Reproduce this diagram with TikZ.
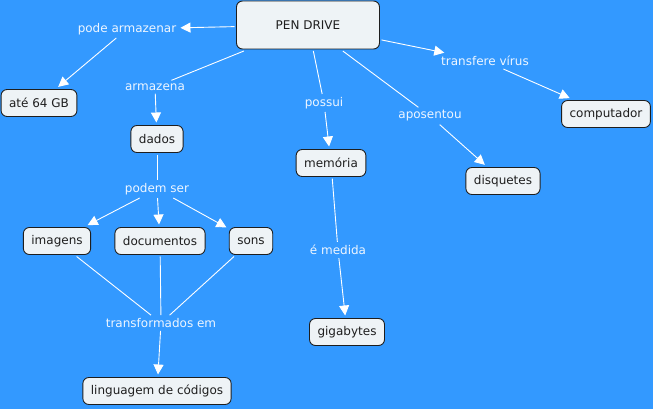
\documentclass[tikz,border=0pt]{standalone}
\usepackage{fontspec}
\setmainfont{DejaVu Sans}
\usetikzlibrary{arrows.meta}
\definecolor{sky}{HTML}{3399FF}
\definecolor{paper}{HTML}{EEF3F6}
\definecolor{ink}{HTML}{1E1E1E}
\definecolor{frost}{HTML}{EEF6FF}

\begin{document}
\begin{tikzpicture}[x=1pt, y=-1pt,
  concept/.style={draw=ink, fill=paper, text=ink, rounded corners=6pt, line width=0.9pt,
    minimum height=27pt, inner xsep=8pt, outer sep=2pt, font=\fontsize{12}{14}\selectfont},
  phrase/.style={text=frost, inner sep=3pt, font=\fontsize{12}{14}\selectfont},
  link/.style={draw=white, line width=0.9pt},
  tolink/.style={link, -{Triangle[length=10pt, width=10pt]}, shorten >=1pt}]
  \fill[sky] (0,0) rectangle (653,409);

  % concepts
  \node[concept, minimum width=143pt, minimum height=48pt] (pen) at (308,25) {PEN DRIVE};
  \node[concept] (gb64) at (39,103) {até 64 GB};
  \node[concept] (dados) at (157,139) {dados};
  \node[concept] (mem) at (331,163) {memória};
  \node[concept] (disq) at (503,181) {disquetes};
  \node[concept] (comp) at (606,114) {computador};
  \node[concept] (img) at (57,241) {imagens};
  \node[concept] (docs) at (160,241) {documentos};
  \node[concept] (sons) at (251,241) {sons};
  \node[concept] (giga) at (347,332) {gigabytes};
  \node[concept] (ling) at (157,391) {linguagem de códigos};

  % linking phrases
  \node[phrase] (podearm) at (127,29) {pode armazenar};
  \node[phrase] (armaz) at (155,87) {armazena};
  \node[phrase] (possui) at (324,103) {possui};
  \node[phrase] (apos) at (430,116) {aposentou};
  \node[phrase] (transf) at (485,61) {transfere vírus};
  \node[phrase] (podem) at (157,189) {podem ser};
  \node[phrase] (medida) at (338,250) {é medida};
  \node[phrase] (transform) at (161,323) {transformados em};

  % connectors
  \draw[tolink] (pen) -- (podearm);
  \draw[tolink] (podearm) -- (gb64);
  \draw[link] (pen) -- (armaz);
  \draw[tolink] (armaz) -- (dados);
  \draw[link] (pen) -- (possui);
  \draw[tolink] (possui) -- (mem);
  \draw[link] (pen) -- (apos);
  \draw[tolink] (apos) -- (disq);
  \draw[tolink] (pen) -- (transf);
  \draw[tolink] (transf) -- (comp);
  \draw[link] (dados) -- (podem);
  \draw[tolink] (podem) -- (img);
  \draw[tolink] (podem) -- (docs);
  \draw[tolink] (podem) -- (sons);
  \draw[link] (mem) -- (medida);
  \draw[tolink] (medida) -- (giga);
  \draw[link] (img) -- (transform);
  \draw[link] (docs) -- (transform);
  \draw[link] (sons) -- (transform);
  \draw[tolink] (transform) -- (ling);
\end{tikzpicture}
\end{document}
